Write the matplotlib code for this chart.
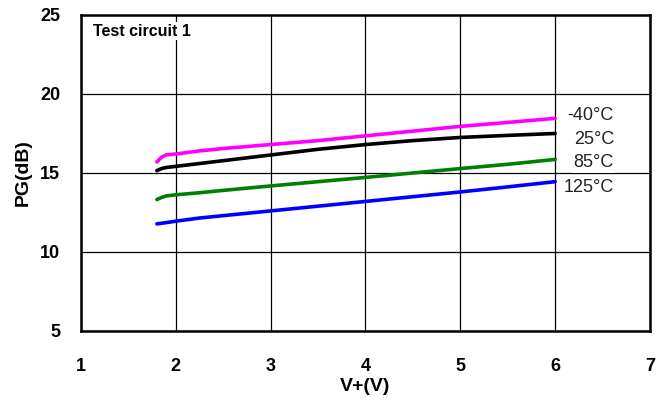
import numpy as np
import matplotlib
matplotlib.use('Agg')
import matplotlib.pyplot as plt

plt.rcParams['font.family'] = ['Liberation Sans', 'DejaVu Sans']

# supply voltage (V)
volts = [1.8, 1.85, 1.9, 2.0, 2.25, 2.5, 3.0, 3.5, 4.0, 4.5, 5.0, 5.5, 6.0]

# power gain (dB) per temperature
pg_m40 = [15.7, 16.0, 16.15, 16.2, 16.4, 16.55, 16.8, 17.05, 17.35, 17.65, 17.95, 18.2, 18.46]
pg_25 = [15.15, 15.28, 15.35, 15.42, 15.6, 15.78, 16.14, 16.5, 16.8, 17.05, 17.25, 17.38, 17.5]
pg_85 = [13.32, 13.45, 13.55, 13.62, 13.75, 13.9, 14.18, 14.45, 14.72, 15.0, 15.28, 15.55, 15.86]
pg_125 = [11.78, 11.82, 11.86, 11.95, 12.15, 12.3, 12.6, 12.9, 13.2, 13.5, 13.8, 14.12, 14.45]

series = [
    ('-40°C', pg_m40, '#ff00ff', 18.61),
    ('25°C', pg_25, '#000000', 17.13),
    ('85°C', pg_85, '#008000', 15.65),
    ('125°C', pg_125, '#0000ff', 14.09),
]

fig = plt.figure(figsize=(6.71, 4.01), dpi=100)
ax = fig.add_axes([0.1207, 0.1746, 0.848, 0.788])

for label, vals, color, ylab in series:
    ax.plot(volts, vals, color=color, lw=2.6, solid_capstyle='round', zorder=3)
    ax.text(6.62, ylab, label, ha='right', va='center', fontsize=13,
            color='#222222', zorder=4,
            bbox=dict(facecolor='white', edgecolor='none', pad=1.0))

ax.set_xlim(1, 7)
ax.set_ylim(5, 25)
ax.set_xticks(range(1, 8))
ax.set_yticks(range(5, 26, 5))
ax.grid(True, color='black', lw=0.9)
ax.set_axisbelow(True)
for s in ax.spines.values():
    s.set_linewidth(1.8)

ax.tick_params(length=0, labelsize=13)
ax.tick_params(axis='y', pad=15)
ax.tick_params(axis='x', pad=19.5)
for t in ax.get_xticklabels() + ax.get_yticklabels():
    t.set_fontweight('bold')

ax.set_xlabel('V+(V)', fontsize=14, fontweight='bold')
ax.set_ylabel('PG(dB)', fontsize=14, fontweight='bold')
ax.xaxis.set_label_coords(0.5, -0.149)
ax.yaxis.set_label_coords(-0.086, 0.5)

ax.text(0.021, 0.949, 'Test circuit 1', transform=ax.transAxes, fontsize=11.5,
        fontweight='bold', ha='left', va='center', zorder=4,
        bbox=dict(facecolor='white', edgecolor='none', pad=1))

fig.savefig('out.png', dpi=100)
